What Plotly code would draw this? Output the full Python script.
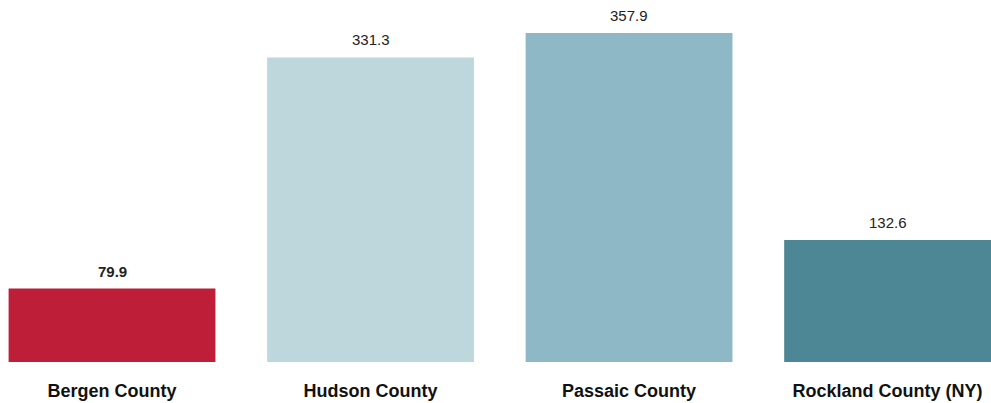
import plotly.graph_objects as go

categories = ["Bergen County", "Hudson County", "Passaic County", "Rockland County (NY)"]
values = [79.9, 331.3, 357.9, 132.6]
colors = ["#BE1E38", "#BDD7DD", "#8FB8C6", "#4D8795"]
label_bold = [True, False, False, False]

fig = go.Figure(go.Bar(
    x=categories, y=values, marker=dict(color=colors, line=dict(width=0)),
    hoverinfo="skip",
))

for c, v, b in zip(categories, values, label_bold):
    txt = f"<b>{v:.1f}</b>" if b else f"{v:.1f}"
    fig.add_annotation(x=c, y=v, text=txt, showarrow=False, yanchor="bottom",
                       yshift=7, font=dict(size=15, color="#222222",
                                           family="Liberation Sans, Arial, sans-serif"))

fig.update_layout(
    width=991, height=403,
    margin=dict(l=0, r=0, t=4, b=41),
    paper_bgcolor="white", plot_bgcolor="white",
    bargap=0.2,
    showlegend=False,
    font=dict(family="Liberation Sans, Arial, sans-serif"),
    xaxis=dict(range=[-0.4333, 3.4], showgrid=False, zeroline=False, showline=False,
               tickfont=dict(size=18, color="#111111", family="Liberation Sans, Arial, sans-serif"),
               tickprefix="<b>", ticksuffix="</b>", ticklabelstandoff=16, fixedrange=True),
    yaxis=dict(range=[0, 389.5], visible=False, fixedrange=True),
)

fig.write_html("out.html", config={"displayModeBar": False},
               post_script="document.body.style.margin='0';document.body.style.overflow='hidden';")
